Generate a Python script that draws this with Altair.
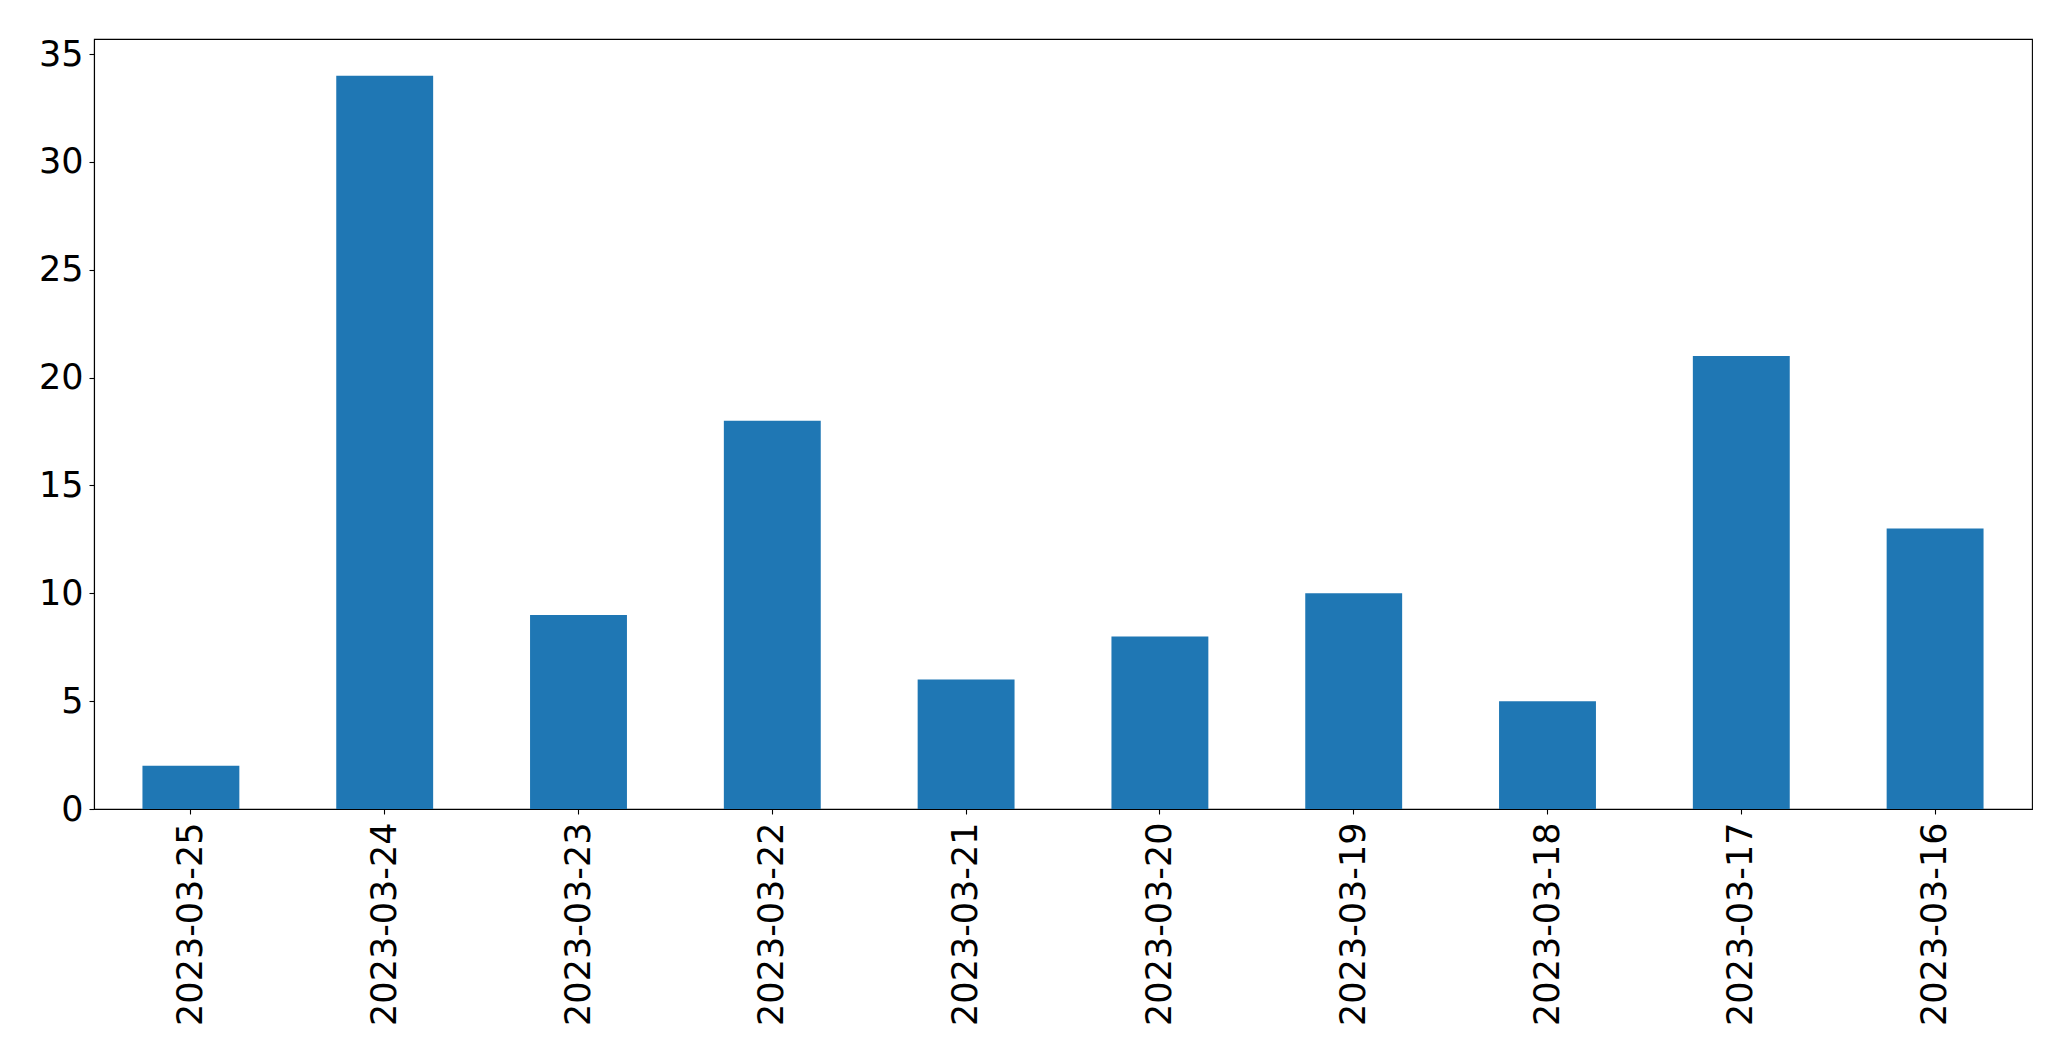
import altair as alt
import pandas as pd

dates = ["2023-03-25", "2023-03-24", "2023-03-23", "2023-03-22", "2023-03-21",
         "2023-03-20", "2023-03-19", "2023-03-18", "2023-03-17", "2023-03-16"]
counts = [2, 34, 9, 18, 6, 8, 10, 5, 21, 13]
y_ticks = [0, 5, 10, 15, 20, 25, 30, 35]

df = pd.DataFrame({"date": dates, "count": counts})

FONT = "DejaVu Sans"
FS = 35

chart = alt.Chart(df).mark_bar(color="#1f77b4").encode(
    x=alt.X("date:N", sort=None, title=None,
            scale=alt.Scale(paddingInner=0.5, paddingOuter=0.25),
            axis=alt.Axis(labelAngle=-90, labelFontSize=FS, labelFont=FONT,
                          labelColor="black", tickColor="black", tickSize=5,
                          tickWidth=1.1, domainColor="black", domainWidth=1.1,
                          labelPadding=8, grid=False, labelLimit=400)),
    y=alt.Y("count:Q", title=None,
            scale=alt.Scale(domain=[0, 35.7], nice=False, zero=True),
            axis=alt.Axis(values=y_ticks, labelFontSize=FS, labelFont=FONT,
                          labelColor="black", tickColor="black", tickSize=5,
                          tickWidth=1.1, domainColor="black", domainWidth=1.1,
                          labelPadding=6, grid=False)),
).properties(
    width=1938, height=770,
    autosize=alt.AutoSizeParams(type="none"),
    padding={"left": 86, "top": 31, "right": 30, "bottom": 240},
).configure_view(
    stroke="black", strokeWidth=1.1
)

chart.save("out.html", embed_options={"renderer": "svg", "actions": False})
